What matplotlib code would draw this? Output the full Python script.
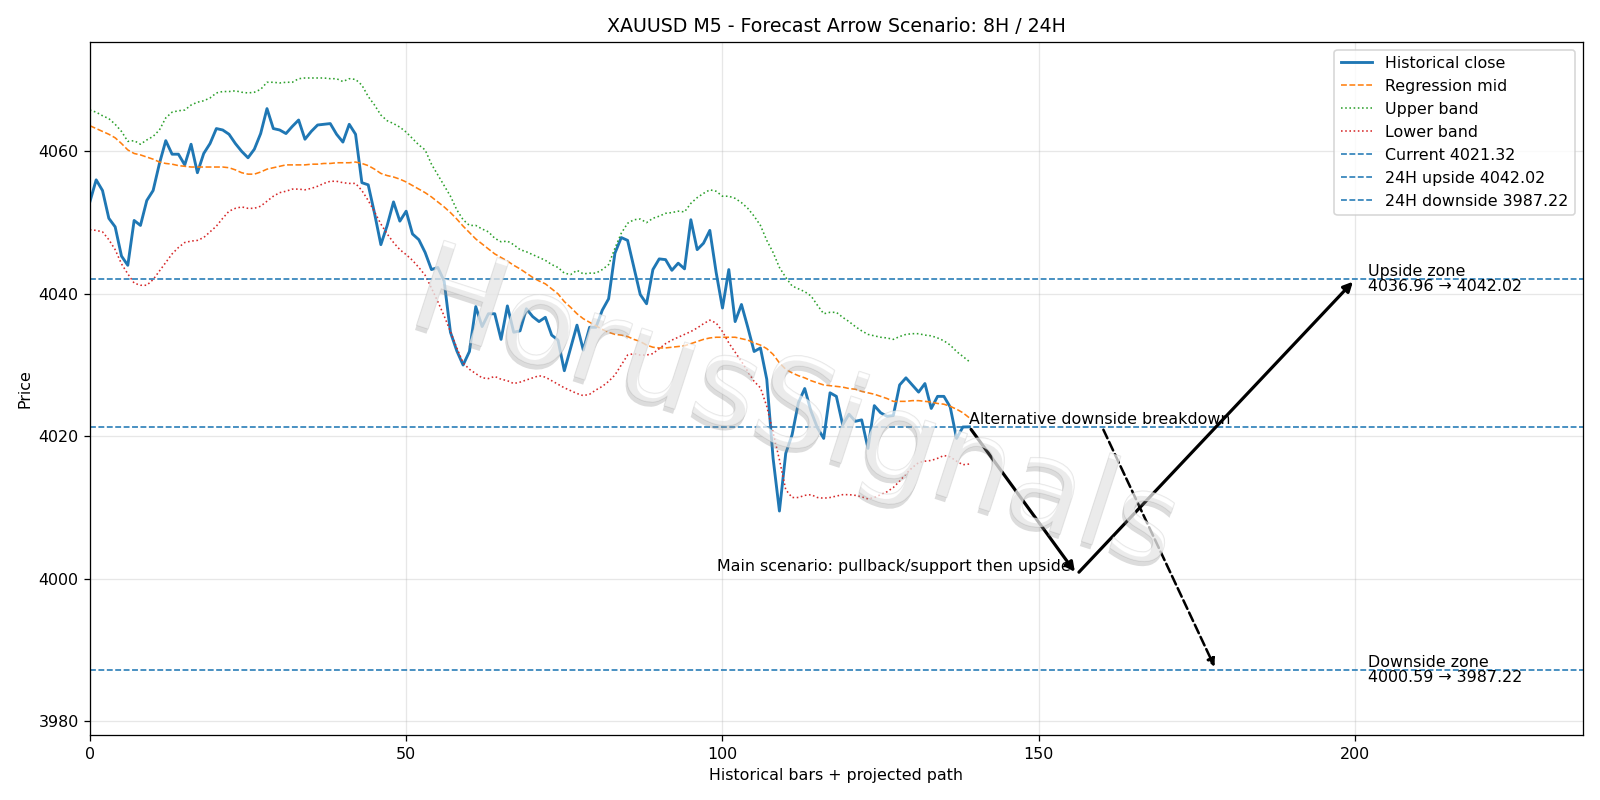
import matplotlib
matplotlib.use("Agg")
import matplotlib.pyplot as plt
import matplotlib.patheffects as pe
import numpy as np

# historical series (140 bars)
close = [4052.9, 4056.0, 4054.5, 4050.6, 4049.4, 4045.3, 4044.0, 4050.3, 4049.6, 4053.1,
         4054.5, 4058.3, 4061.5, 4059.6, 4059.6, 4058.1, 4061.0, 4057.0, 4059.7, 4061.1,
         4063.2, 4063.0, 4062.4, 4061.1, 4060.0, 4059.1, 4060.3, 4062.5, 4066.0, 4063.2,
         4063.0, 4062.5, 4063.5, 4064.4, 4061.7, 4062.8, 4063.7, 4063.8, 4063.9, 4062.4,
         4061.3, 4063.8, 4062.4, 4055.6, 4055.3, 4051.3, 4046.9, 4049.6, 4052.9, 4050.2,
         4051.6, 4048.4, 4047.6, 4045.8, 4043.4, 4043.7, 4041.8, 4034.6, 4032.0, 4030.0,
         4031.9, 4038.2, 4035.4, 4037.2, 4037.2, 4033.6, 4038.3, 4034.6, 4034.8, 4037.9,
         4036.8, 4036.1, 4036.7, 4034.2, 4033.5, 4029.2, 4032.4, 4035.6, 4032.1, 4035.3,
         4035.3, 4037.7, 4039.3, 4045.7, 4047.9, 4047.5, 4043.7, 4039.9, 4038.6, 4043.4,
         4044.9, 4044.8, 4043.3, 4044.3, 4043.5, 4050.4, 4046.2, 4047.1, 4048.9, 4043.0,
         4038.0, 4043.4, 4036.1, 4038.5, 4035.3, 4031.9, 4032.4, 4028.0, 4016.9, 4009.5,
         4017.6, 4020.2, 4024.7, 4026.7, 4023.5, 4021.2, 4019.7, 4026.1, 4025.6, 4021.6,
         4023.1, 4022.1, 4022.3, 4018.3, 4024.3, 4023.3, 4022.8, 4022.9, 4027.2, 4028.2,
         4027.2, 4026.2, 4027.4, 4023.9, 4025.6, 4025.6, 4024.1, 4019.7, 4021.3, 4021.32]

mid = [4063.6, 4063.2, 4062.8, 4062.4, 4061.9, 4061.1, 4060.2, 4059.7, 4059.5, 4059.2,
       4058.9, 4058.5, 4058.3, 4058.2, 4058.0, 4057.9, 4057.8, 4057.8, 4057.8, 4057.8,
       4057.8, 4057.8, 4057.7, 4057.4, 4057.0, 4056.8, 4056.8, 4057.1, 4057.5, 4057.7,
       4057.9, 4058.1, 4058.1, 4058.1, 4058.1, 4058.2, 4058.2, 4058.3, 4058.3, 4058.4,
       4058.4, 4058.4, 4058.5, 4058.3, 4058.0, 4057.5, 4056.9, 4056.6, 4056.4, 4056.1,
       4055.7, 4055.2, 4054.7, 4054.2, 4053.6, 4052.9, 4052.2, 4051.4, 4050.5, 4049.5,
       4048.6, 4047.7, 4047.0, 4046.3, 4045.6, 4045.1, 4044.6, 4044.0, 4043.5, 4042.9,
       4042.3, 4041.8, 4041.4, 4040.7, 4040.0, 4038.9, 4038.1, 4037.2, 4036.5, 4036.0,
       4035.5, 4035.0, 4034.6, 4034.3, 4034.2, 4034.0, 4033.6, 4033.3, 4032.8, 4032.5,
       4032.4, 4032.4, 4032.5, 4032.6, 4032.7, 4033.0, 4033.3, 4033.6, 4033.8, 4033.9,
       4033.9, 4033.9, 4033.9, 4033.7, 4033.5, 4033.1, 4032.8, 4032.3, 4031.5, 4030.3,
       4029.4, 4028.9, 4028.5, 4028.2, 4027.8, 4027.5, 4027.2, 4027.1, 4027.0, 4026.9,
       4026.7, 4026.6, 4026.3, 4026.1, 4025.9, 4025.6, 4025.3, 4024.9, 4024.9, 4024.9,
       4025.0, 4025.0, 4024.9, 4024.8, 4024.6, 4024.5, 4024.2, 4023.8, 4023.3, 4022.6]

upper = [4065.8, 4065.5, 4065.0, 4064.6, 4063.8, 4062.8, 4061.4, 4061.5, 4061.0, 4061.6,
         4062.1, 4063.0, 4064.7, 4065.5, 4065.7, 4065.8, 4066.5, 4066.9, 4067.1, 4067.5,
         4068.2, 4068.4, 4068.4, 4068.5, 4068.3, 4068.2, 4068.3, 4068.7, 4069.7, 4069.7,
         4069.6, 4069.7, 4069.7, 4070.2, 4070.3, 4070.3, 4070.3, 4070.3, 4070.2, 4070.2,
         4069.8, 4070.2, 4070.1, 4069.3, 4067.7, 4066.5, 4065.1, 4064.3, 4063.9, 4063.4,
         4062.7, 4061.8, 4060.9, 4060.2, 4058.2, 4056.7, 4055.2, 4053.7, 4051.8, 4050.4,
         4049.6, 4049.6, 4049.1, 4048.7, 4047.8, 4047.3, 4047.4, 4046.9, 4046.2, 4045.9,
         4045.5, 4045.1, 4044.7, 4044.1, 4043.7, 4042.9, 4042.7, 4043.3, 4042.8, 4042.9,
         4042.9, 4043.4, 4044.1, 4046.4, 4048.5, 4049.9, 4050.4, 4050.5, 4050.0, 4050.6,
         4050.9, 4051.3, 4051.4, 4051.6, 4051.5, 4052.7, 4053.5, 4054.1, 4054.6, 4054.4,
         4053.7, 4053.7, 4053.4, 4052.8, 4052.0, 4050.9, 4049.6, 4047.5, 4045.8, 4043.7,
         4042.3, 4041.1, 4040.7, 4040.3, 4039.7, 4038.4, 4037.2, 4037.4, 4037.4, 4036.7,
         4036.1, 4035.4, 4034.8, 4034.3, 4034.1, 4033.9, 4033.8, 4033.6, 4034.0, 4034.3,
         4034.4, 4034.4, 4034.2, 4034.1, 4033.8, 4033.4, 4032.8, 4031.9, 4031.2, 4030.5]

lower = [4049.0, 4048.9, 4048.7, 4047.6, 4046.2, 4044.2, 4042.8, 4041.5, 4041.2, 4041.2,
         4042.0, 4043.2, 4044.4, 4045.6, 4046.5, 4047.2, 4047.4, 4047.5, 4047.9, 4048.7,
         4049.5, 4050.6, 4051.6, 4052.0, 4052.2, 4052.0, 4052.0, 4052.3, 4053.0, 4053.7,
         4054.2, 4054.4, 4054.7, 4054.7, 4054.6, 4054.8, 4055.1, 4055.5, 4055.8, 4055.8,
         4055.6, 4055.5, 4055.5, 4054.5, 4053.1, 4051.5, 4049.8, 4048.4, 4047.2, 4046.2,
         4045.5, 4044.7, 4043.7, 4042.6, 4040.8, 4038.9, 4036.9, 4034.7, 4032.4, 4030.3,
         4029.4, 4028.8, 4028.2, 4028.1, 4028.4, 4028.0, 4027.8, 4027.4, 4027.6, 4027.9,
         4028.2, 4028.5, 4028.3, 4027.8, 4027.3, 4026.8, 4026.4, 4026.0, 4025.7, 4025.9,
         4026.5, 4027.0, 4027.7, 4028.6, 4030.0, 4031.4, 4031.6, 4031.4, 4031.4, 4031.6,
         4032.3, 4033.0, 4033.5, 4033.9, 4034.3, 4034.7, 4035.2, 4035.8, 4036.3, 4035.9,
         4034.7, 4033.1, 4031.8, 4030.5, 4029.1, 4027.7, 4026.8, 4024.2, 4020.5, 4016.7,
         4012.5, 4011.4, 4011.4, 4011.7, 4011.8, 4011.4, 4011.3, 4011.4, 4011.6, 4011.8,
         4011.8, 4011.7, 4011.5, 4011.2, 4011.4, 4011.8, 4012.2, 4012.8, 4013.7, 4014.7,
         4015.6, 4016.3, 4016.5, 4016.6, 4016.9, 4017.3, 4017.1, 4016.5, 4016.0, 4016.1]

current = 4021.32
up_8h, up_24h = 4036.96, 4042.02
dn_8h, dn_24h = 4000.59, 3987.22

# projected path waypoints (bar index, price)
main_x = [139, 156, 200]
main_y = [current, dn_8h, up_24h]
alt_x = [160, 178]
alt_y = [current, dn_24h]

bars = np.arange(len(close))

fig, ax = plt.subplots(figsize=(14, 7), dpi=1600 / 14)

ax.plot(bars, close, color="C0", lw=1.8, label="Historical close")
ax.plot(bars, mid, color="C1", ls="--", lw=1, label="Regression mid")
ax.plot(bars, upper, color="C2", ls=":", lw=1, label="Upper band")
ax.plot(bars, lower, color="C3", ls=":", lw=1, label="Lower band")
ax.axhline(current, color="C0", ls="--", lw=1, label=f"Current {current:.2f}")
ax.axhline(up_24h, color="C0", ls="--", lw=1, label=f"24H upside {up_24h:.2f}")
ax.axhline(dn_24h, color="C0", ls="--", lw=1, label=f"24H downside {dn_24h:.2f}")

# main scenario arrows
for i in range(len(main_x) - 1):
    ax.annotate("", xy=(main_x[i + 1], main_y[i + 1]), xytext=(main_x[i], main_y[i]),
                arrowprops=dict(arrowstyle="-|>", color="black", lw=2, mutation_scale=12))
# alternative scenario
ax.annotate("", xy=(alt_x[1], alt_y[1]), xytext=(alt_x[0], alt_y[0]),
            arrowprops=dict(arrowstyle="-|>", color="black", lw=1.6, ls="--", mutation_scale=10))

ax.text(main_x[1] - 1, dn_8h, "Main scenario: pullback/support then upside",
        ha="right", va="bottom", fontsize=10)
ax.text(main_x[0], current, "Alternative downside breakdown", ha="left", va="bottom", fontsize=10)
ax.text(202, up_24h, f"Upside zone\n{up_8h:.2f} \u2192 {up_24h:.2f}", ha="left", va="center",
        fontsize=10, linespacing=1.0)
ax.text(202, dn_24h, f"Downside zone\n{dn_8h:.2f} \u2192 {dn_24h:.2f}", ha="left", va="center",
        fontsize=10, linespacing=1.0)

# watermark
ax.text(0.472, 0.465, "HorusSignals", transform=ax.transAxes, fontsize=77,
        rotation=-18, ha="center", va="center", color="white", alpha=0.45, zorder=10,
        path_effects=[pe.Stroke(linewidth=0.8, foreground="#c8c8c8"),
                      pe.withSimplePatchShadow(offset=(-1, -3), shadow_rgbFace="#8c8c8c",
                                               alpha=0.3)])

ax.set_xlim(0, 236)
ax.set_ylim(3978, 4075.4)
ax.set_title("XAUUSD M5 - Forecast Arrow Scenario: 8H / 24H")
ax.set_xlabel("Historical bars + projected path")
ax.set_ylabel("Price")
ax.grid(alpha=0.3)
ax.legend(loc="upper right")

fig.tight_layout()
fig.savefig("out.png")
